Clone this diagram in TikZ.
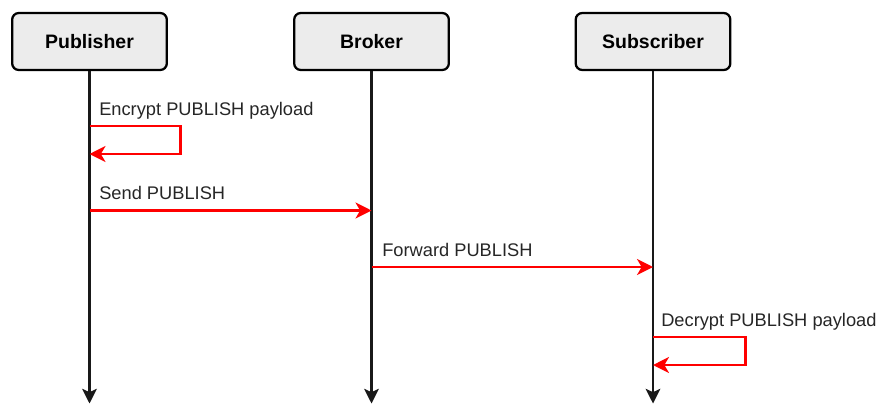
\documentclass[tikz,border=0pt]{standalone}
\usepackage{fontspec}
\setmainfont{Liberation Sans}
\usepackage{tikz}
\usetikzlibrary{arrows.meta}

\tikzset{
  actor/.style={draw=black, line width=1.7pt, fill=gray!15, rounded corners=5pt,
    minimum width=116pt, minimum height=42.75pt, font=\fontsize{14.6}{17}\selectfont\bfseries},
  life/.style={line width=1.7pt, draw=black!90, -{Stealth[length=11pt,width=11pt,inset=2.5pt]}},
  msg/.style={red, line width=1.8pt, -{Stealth[length=12pt,width=12pt,inset=3.5pt]}},
  lbl/.style={anchor=base west, inner sep=0pt, text=black!85, font=\fontsize{13.7}{16}\selectfont}
}

\begin{document}
\begin{tikzpicture}[x=0.75pt,y=-0.75pt]
\useasboundingbox (0,0) rectangle (887,404);
%\draw[step=50,gray,very thin] (0,0) grid (887,404);

\node[actor] (pub) at (89.5,41.5) {Publisher};
\node[actor] (brk) at (371.5,41.5) {Broker};
\node[actor] (sub) at (653,41.5) {Subscriber};

\coordinate (pubend) at (89.5,403.5);
\coordinate (brkend) at (371.5,403.5);
\coordinate (subend) at (653,403.5);
\draw[life] (pub) -- (pubend);
\draw[life] (brk) -- (brkend);
\draw[life] (sub) -- (subend);

% publisher encrypts
\coordinate (enc1) at (89.5,126);
\coordinate (enc2) at (89.5,154);
\draw[msg] (enc1) -- ++(91,0) -- ++(0,28) -- (enc2);
\node[lbl] (enclbl) at (99,115) {Encrypt PUBLISH payload};

% publisher -> broker
\coordinate (send1) at (89.5,210.5);
\coordinate (send2) at (371.5,210.5);
\draw[msg] (send1) -- (send2);
\node[lbl] (sendlbl) at (99,199) {Send PUBLISH};

% broker -> subscriber
\coordinate (fwd1) at (371.5,267);
\coordinate (fwd2) at (653,267);
\draw[msg] (fwd1) -- (fwd2);
\node[lbl] (fwdlbl) at (382,256) {Forward PUBLISH};

% subscriber decrypts
\coordinate (dec1) at (653,337);
\coordinate (dec2) at (653,365);
\draw[msg] (dec1) -- ++(92.5,0) -- ++(0,28) -- (dec2);
\node[lbl] (declbl) at (661,326) {Decrypt PUBLISH payload};

\end{tikzpicture}
\end{document}
